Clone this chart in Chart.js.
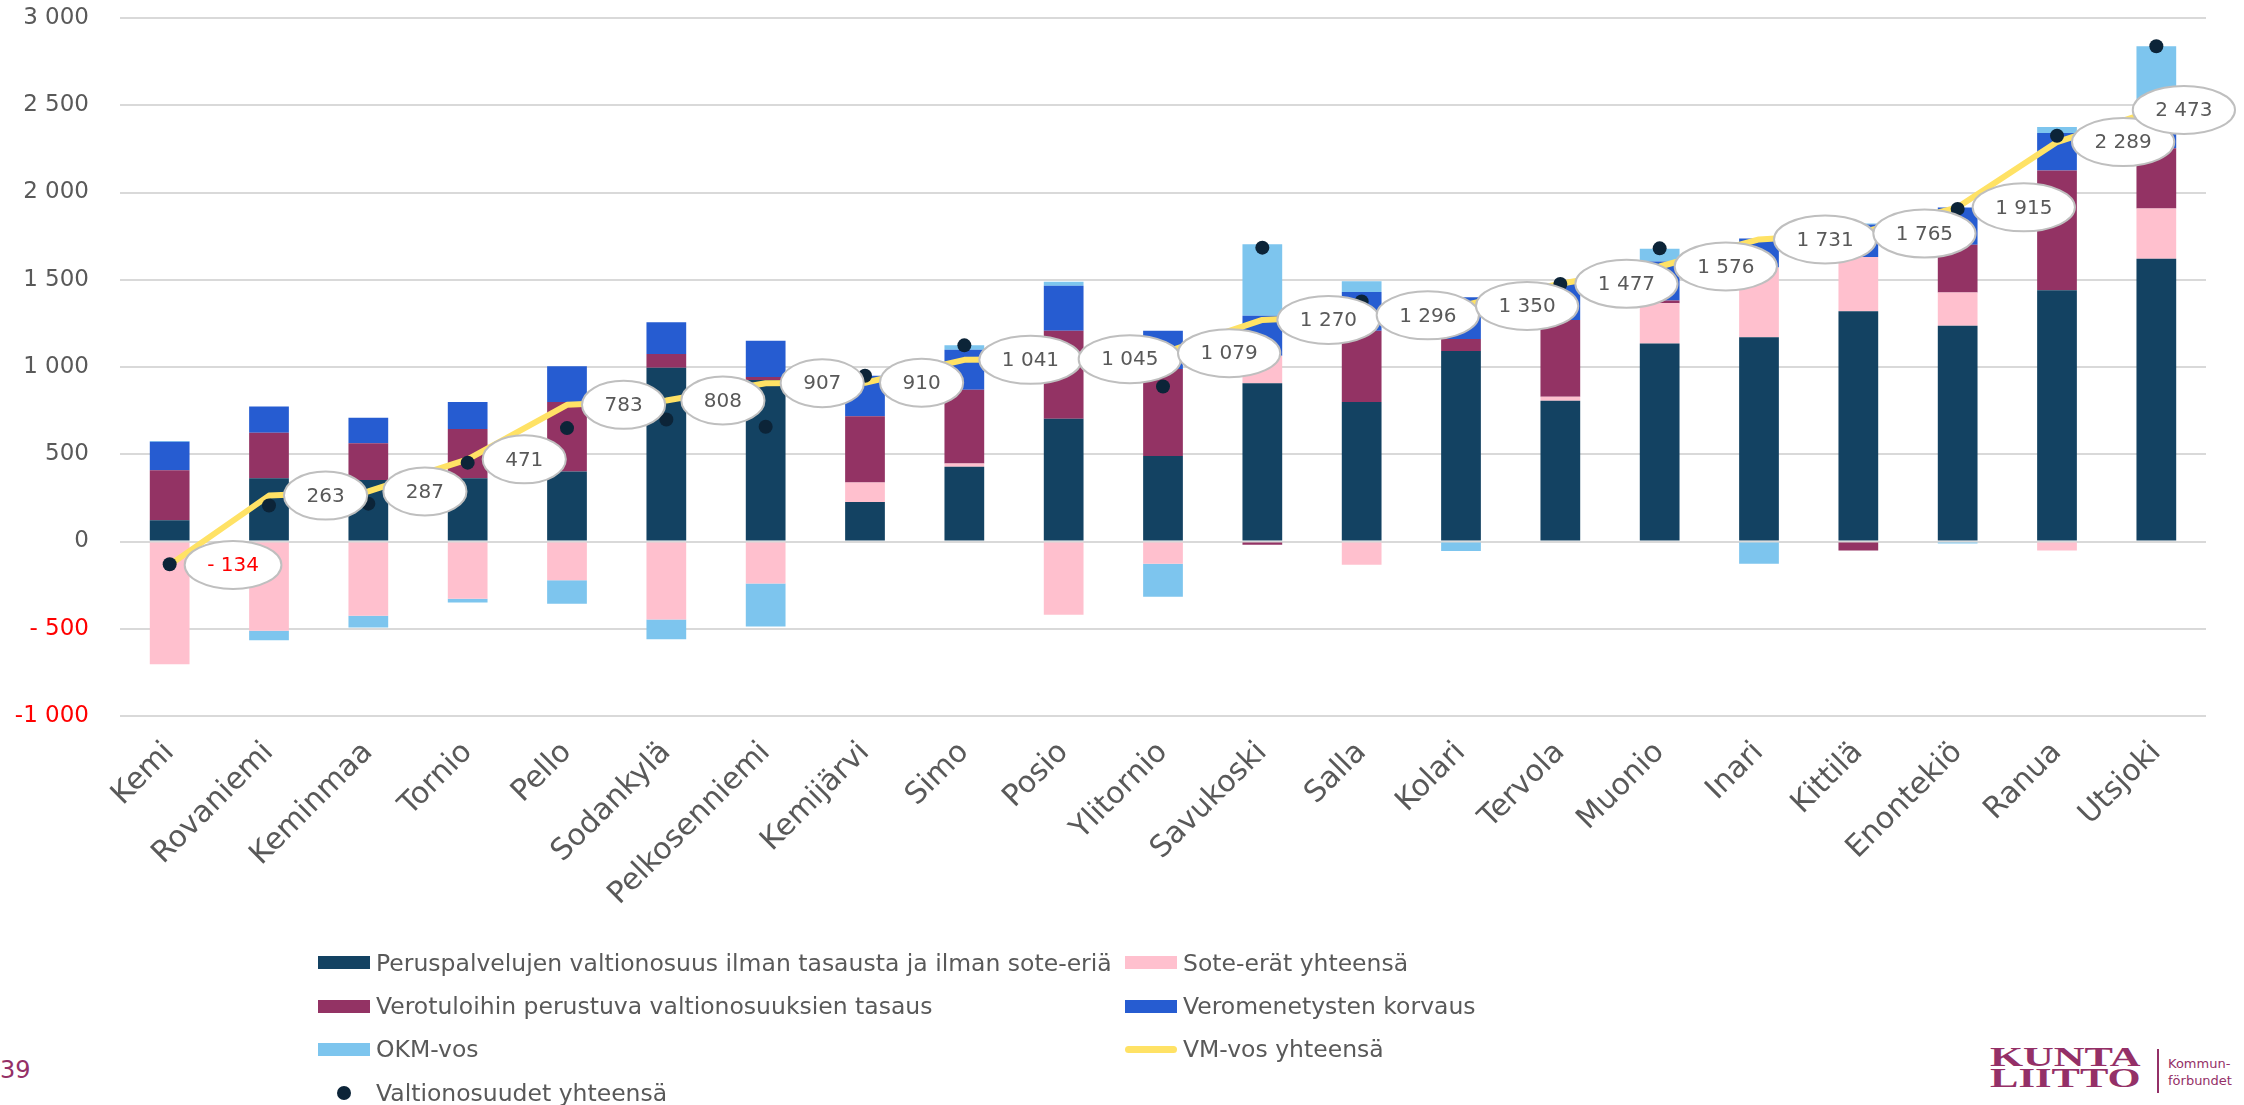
<!DOCTYPE html>
<html lang="fi">
<head>
<meta charset="utf-8">
<title>Valtionosuudet, Lapin kunnat</title>
<script src="https://cdn.jsdelivr.net/npm/chart.js@4.4.1/dist/chart.umd.min.js"></script>
<style>
  html, body { margin: 0; padding: 0; background: #fff; }
  body { width: 2244px; height: 1105px; position: relative; overflow: hidden; font-family: "DejaVu Sans", sans-serif; color: #595959; }
  #chartBox { position: absolute; left: 0; top: 0; width: 2244px; height: 960px; }
  #legend { position: absolute; left: 318px; top: 941px; display: grid; grid-template-columns: 807px auto; grid-auto-rows: 43.4px; font-size: 23.5px; }
  .item { display: flex; align-items: center; white-space: nowrap; }
  .mark { width: 52px; height: 14px; margin-right: 6px; flex: none; display: flex; align-items: center; justify-content: center; }
  .mark .box { width: 52px; height: 13px; }
  .mark .ln { width: 52px; height: 7px; border-radius: 4px; }
  .mark .dot { width: 14px; height: 14px; border-radius: 50%; }
  #page { position: absolute; left: 0; top: 1055px; font-size: 24px; line-height: 30px; color: #943067; }
  .logo { position: absolute; font-family: "Liberation Serif", serif; font-weight: bold; font-size: 28px; line-height: 28px; color: #943067; transform: scaleX(1.52); transform-origin: left top; }
  #bar { position: absolute; left: 2157px; top: 1049px; width: 2px; height: 44px; background: #943067; }
  .small { position: absolute; left: 2168px; font-size: 13px; line-height: 17px; color: #943067; }
</style>
</head>
<body>
<div id="chartBox"><canvas id="chart"></canvas></div>
<div id="legend"></div>
<div id="page">39</div>
<div class="logo" style="left:1990px; top:1043px;">KUNTA</div>
<div class="logo" style="left:1990px; top:1064px;">LIITTO</div>
<div id="bar"></div>
<div class="small" style="top:1055px;">Kommun-</div>
<div class="small" style="top:1072px;">förbundet</div>
<script>
// kunnat
const kunnat = ['Kemi', 'Rovaniemi', 'Keminmaa', 'Tornio', 'Pello', 'Sodankylä', 'Pelkosenniemi', 'Kemijärvi', 'Simo', 'Posio',
  'Ylitornio', 'Savukoski', 'Salla', 'Kolari', 'Tervola', 'Muonio', 'Inari', 'Kittilä', 'Enontekiö', 'Ranua', 'Utsjoki'];

// pinotut osat (euroa / asukas)
const peruspalvelut = [122, 363, 352, 363, 401, 996, 926, 227, 428, 704, 490, 907, 799, 1092, 807, 1134, 1170, 1319, 1237, 1440, 1620];
const soteErat = [-704, -512, -425, -328, -222, -447, -241, 111, 19, -420, -127, 157, -133, 0, 23, 232, 400, 311, 190, -51, 288];
const tasaus = [287, 260, 211, 281, 398, 79, 16, 380, 422, 504, 498, -19, 409, 69, 440, 15, 0, -51, 273, 686, 346];
const veromenetykset = [162, 151, 146, 155, 206, 181, 209, 232, 230, 257, 220, 230, 222, 239, 206, 223, 166, 187, 214, 215, 186];
const okmVos = [5, -54, -68, -21, -135, -113, -246, 0, 25, 24, -190, 409, 62, -54, 0, 74, -127, 5, -11, 34, 398];

// viiva ja pisteet
const vmVosYhteensa = [-134, 263, 287, 471, 783, 808, 907, 910, 1041, 1045, 1079, 1270, 1296, 1350, 1477, 1576, 1731, 1765, 1915, 2289, 2473];
const valtionosuudetYhteensa = [-130, 206, 217, 452, 650, 699, 658, 950, 1124, 1069, 888, 1684, 1375, 1346, 1476, 1680, 1609, 1785, 1906, 2325, 2838];

// y-akseli
const yMin = -1000;
const yMax = 3000;
const yStep = 500;

const GREY = '#595959';
const RED = '#FF0000';
const FONT = '"DejaVu Sans", sans-serif';

// "- 500", "-1 000", "2 473"
function fmt(v) {
  const a = Math.abs(Math.round(v));
  let s = a >= 1000 ? Math.floor(a / 1000) + ' ' + String(a % 1000).padStart(3, '0') : String(a);
  if (v < 0) s = (a >= 1000 ? '-' : '- ') + s;
  return s;
}

// arvolaatikot viivan pisteiden oikealle puolelle
const labelBubbles = {
  id: 'labelBubbles',
  afterDatasetsDraw(chart) {
    const idx = chart.data.datasets.findIndex(d => d.label === 'VM-vos yhteensä');
    const meta = chart.getDatasetMeta(idx);
    const ctx = chart.ctx;
    ctx.save();
    ctx.font = '20px ' + FONT;
    meta.data.forEach((pt, i) => {
      const v = chart.data.datasets[idx].data[i];
      const txt = fmt(v);
      const w = ctx.measureText(txt).width + 45;
      const h = 48;
      let cx = pt.x + 15 + w / 2;
      cx = Math.min(cx, chart.width - 9 - w / 2);
      const cy = pt.y;
      ctx.beginPath();
      ctx.ellipse(cx, cy, w / 2, h / 2, 0, 0, Math.PI * 2);
      ctx.fillStyle = '#fff';
      ctx.fill();
      ctx.lineWidth = 2;
      ctx.strokeStyle = '#BFBFBF';
      ctx.stroke();
      ctx.fillStyle = v < 0 ? RED : GREY;
      ctx.textAlign = 'center';
      ctx.textBaseline = 'middle';
      ctx.fillText(txt, cx, cy + 1);
    });
    ctx.restore();
  }
};

const ctx = document.getElementById('chart').getContext('2d');
const chart = new Chart(ctx, {
  type: 'bar',
  data: {
    labels: kunnat,
    datasets: [
      { label: 'Peruspalvelujen valtionosuus ilman tasausta ja ilman sote-eriä', data: peruspalvelut, backgroundColor: '#134262', order: 3 },
      { label: 'Sote-erät yhteensä', data: soteErat, backgroundColor: '#FFC0CE', order: 3 },
      { label: 'Verotuloihin perustuva valtionosuuksien tasaus', data: tasaus, backgroundColor: '#933364', order: 3 },
      { label: 'Veromenetysten korvaus', data: veromenetykset, backgroundColor: '#265CD1', order: 3 },
      { label: 'OKM-vos', data: okmVos, backgroundColor: '#7DC5EE', order: 3 },
      {
        label: 'VM-vos yhteensä', type: 'line', data: vmVosYhteensa, stack: 'vm', order: 2,
        borderColor: '#FFE265', backgroundColor: '#FFE265', borderWidth: 6, tension: 0,
        borderJoinStyle: 'round', borderCapStyle: 'round', pointRadius: 0, fill: false
      },
      {
        label: 'Valtionosuudet yhteensä', type: 'line', data: valtionosuudetYhteensa, stack: 'vos', order: 1,
        showLine: false, pointRadius: 7, pointBackgroundColor: '#0C2438', pointBorderWidth: 0,
        backgroundColor: '#0C2438', borderColor: '#0C2438'
      }
    ]
  },
  options: {
    responsive: true,
    maintainAspectRatio: false,
    animation: false,
    devicePixelRatio: 1,
    layout: { padding: { left: 0, right: 38, top: 18, bottom: 0 } },
    datasets: { bar: { barPercentage: 0.4, categoryPercentage: 1.0, borderWidth: 0 } },
    plugins: { legend: { display: false }, tooltip: { enabled: false } },
    scales: {
      x: {
        stacked: true,
        grid: { display: false, drawTicks: false },
        border: { display: false },
        ticks: { autoSkip: false, minRotation: 45, maxRotation: 45, padding: 19, color: GREY, font: { family: FONT, size: 30 } },
        afterFit(scale) { scale.height = 244; }
      },
      y: {
        stacked: true,
        min: yMin,
        max: yMax,
        grid: { color: '#D9D9D9', lineWidth: 2, drawTicks: false },
        border: { display: false },
        ticks: {
          stepSize: yStep,
          padding: 31,
          font: { family: FONT, size: 23 },
          color: c => (c.tick && c.tick.value < 0 ? RED : GREY),
          callback: v => fmt(v)
        },
        afterFit(scale) {
          scale.width = 120;
          scale.paddingTop = 0;
          scale.paddingBottom = 0;
        }
      }
    }
  },
  plugins: [labelBubbles]
});

// selite kahteen sarakkeeseen
const legend = document.getElementById('legend');
chart.data.datasets.forEach(ds => {
  const item = document.createElement('div');
  item.className = 'item';
  const mark = document.createElement('span');
  mark.className = 'mark';
  const sw = document.createElement('span');
  if (ds.type === 'line' && ds.showLine === false) {
    sw.className = 'dot';
    sw.style.background = ds.pointBackgroundColor;
  } else if (ds.type === 'line') {
    sw.className = 'ln';
    sw.style.background = ds.borderColor;
  } else {
    sw.className = 'box';
    sw.style.background = ds.backgroundColor;
  }
  mark.appendChild(sw);
  const txt = document.createElement('span');
  txt.textContent = ds.label;
  item.appendChild(mark);
  item.appendChild(txt);
  legend.appendChild(item);
});
</script>
</body>
</html>
